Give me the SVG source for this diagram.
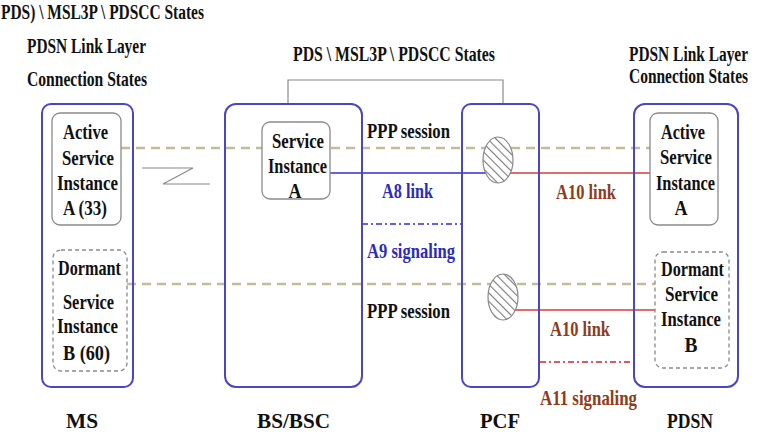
<svg xmlns="http://www.w3.org/2000/svg" width="759" height="441" viewBox="0 0 759 441">
<defs>
<style>
text{font-family:"Liberation Serif","Times New Roman",serif;font-weight:bold;font-size:22px;fill:#111}
.c{text-anchor:middle}
.outer{fill:none;stroke:#4a46c4;stroke-width:2}
.inner{fill:#fff;stroke:#8a8a8a;stroke-width:1.3}
.innerd{fill:#fff;stroke:#8a8a8a;stroke-width:1.3;stroke-dasharray:4 3}
.ppp{stroke:#c4bc98;stroke-width:2.5;stroke-dasharray:9 6;fill:none}
.blue{stroke:#2e2ed8;stroke-width:1.6;fill:none}
.red{stroke:#d83a3a;stroke-width:1.6;fill:none}
.bdd{stroke:#2e2ed8;stroke-width:1.6;stroke-dasharray:6 3 2 3;fill:none}
.rdd{stroke:#c82828;stroke-width:1.6;stroke-dasharray:6 3 2 3;fill:none}
.gray{stroke:#8a8a8a;stroke-width:1.2;fill:none}
.lb{fill:#2c2cb8}
.lr{fill:#8e3c1c}
.hatch{fill:url(#hp);stroke:#888;stroke-width:1.2}
.sm{font-size:21px}
.top{font-size:20px}
</style>
<pattern id="hp" patternUnits="userSpaceOnUse" width="6" height="6" patternTransform="rotate(-45)">
<rect width="6" height="6" fill="#fff"/>
<line x1="0" y1="0" x2="0" y2="6" stroke="#7a7a7a" stroke-width="2.2"/>
</pattern>
</defs>
<rect width="759" height="441" fill="#fff"/>

<g id="titles">
<text class="top" x="1" y="19" textLength="203" lengthAdjust="spacingAndGlyphs">PDS) \ MSL3P \ PDSCC States</text>
<text x="27" y="53" textLength="119" lengthAdjust="spacingAndGlyphs">PDSN Link Layer</text>
<text x="27" y="86" textLength="120" lengthAdjust="spacingAndGlyphs">Connection States</text>
<text x="293" y="61" textLength="202" lengthAdjust="spacingAndGlyphs">PDS \ MSL3P \ PDSCC States</text>
<text class="sm" transform="scale(0.7,1)" x="898.6" y="61" textLength="170" lengthAdjust="spacingAndGlyphs">PDSN Link Layer</text>
<text class="sm" transform="scale(0.7,1)" x="898.6" y="83" textLength="170" lengthAdjust="spacingAndGlyphs">Connection States</text>
</g>

<g id="connectors">
<polyline class="gray" points="288,104 288,80 503,80 503,104"/>
<polyline class="gray" points="142,168 193,168 163,184 210,184"/>
<line class="ppp" x1="121" y1="148" x2="650" y2="148"/>
<line class="ppp" x1="127" y1="284" x2="655" y2="284"/>
<line class="blue" x1="330" y1="173" x2="495" y2="173"/>
<line class="red" x1="505" y1="173" x2="650" y2="173"/>
<line class="red" x1="510" y1="310" x2="655" y2="310"/>
<line class="bdd" x1="362" y1="224" x2="461" y2="224"/>
<line class="rdd" x1="540" y1="362" x2="633" y2="362"/>
</g>

<g id="MS">
<rect class="outer" x="42" y="104" width="91" height="283" rx="9"/>
<g id="ms-active">
<rect class="inner" x="52" y="113" width="69" height="112" rx="8" fill-opacity="0"/>
<text x="63" y="139" textLength="45" lengthAdjust="spacingAndGlyphs">Active</text>
<text x="62" y="165" textLength="52" lengthAdjust="spacingAndGlyphs">Service</text>
<text x="57" y="190" textLength="61" lengthAdjust="spacingAndGlyphs">Instance</text>
<text x="63" y="215" textLength="44" lengthAdjust="spacingAndGlyphs">A (33)</text>
</g>
<g id="ms-dormant">
<rect class="innerd" x="53" y="250" width="74" height="121" rx="8" fill-opacity="0"/>
<text x="58" y="275" textLength="63" lengthAdjust="spacingAndGlyphs">Dormant</text>
<text x="63" y="309" textLength="51" lengthAdjust="spacingAndGlyphs">Service</text>
<text x="57" y="333" textLength="61" lengthAdjust="spacingAndGlyphs">Instance</text>
<text x="63" y="360" textLength="47" lengthAdjust="spacingAndGlyphs">B  (60)</text>
</g>
<text x="66" y="428" textLength="32" lengthAdjust="spacingAndGlyphs">MS</text>
</g>

<g id="BSC">
<rect class="outer" x="225" y="104" width="137" height="283" rx="11"/>
<g id="bsc-si">
<rect class="inner" x="262" y="122" width="68" height="77" rx="8"/>
<text x="272" y="148" textLength="52" lengthAdjust="spacingAndGlyphs">Service</text>
<text x="268" y="173" textLength="59" lengthAdjust="spacingAndGlyphs">Instance</text>
<text class="c" x="295" y="198" textLength="13" lengthAdjust="spacingAndGlyphs">A</text>
</g>
<text x="257" y="428" textLength="73" lengthAdjust="spacingAndGlyphs">BS/BSC</text>
</g>

<g id="PCF">
<rect class="outer" x="462" y="104" width="77" height="283" rx="9"/>
<ellipse class="hatch" cx="498" cy="160" rx="15" ry="23"/>
<ellipse class="hatch" cx="503" cy="297" rx="15" ry="23"/>
<text x="480" y="428" textLength="40" lengthAdjust="spacingAndGlyphs">PCF</text>
</g>

<g id="PDSN">
<rect class="outer" x="634" y="104" width="104" height="283" rx="11"/>
<g id="pdsn-active">
<rect class="inner" x="650" y="113" width="68" height="112" rx="8"/>
<text x="661" y="139" textLength="44" lengthAdjust="spacingAndGlyphs">Active</text>
<text x="660" y="164" textLength="52" lengthAdjust="spacingAndGlyphs">Service</text>
<text x="656" y="190" textLength="59" lengthAdjust="spacingAndGlyphs">Instance</text>
<text class="c" x="681" y="215" textLength="13" lengthAdjust="spacingAndGlyphs">A</text>
</g>
<g id="pdsn-dormant">
<rect class="innerd" x="655" y="252" width="74" height="116" rx="8"/>
<text x="661" y="276" textLength="63" lengthAdjust="spacingAndGlyphs">Dormant</text>
<text x="665" y="301" textLength="53" lengthAdjust="spacingAndGlyphs">Service</text>
<text x="661" y="326" textLength="60" lengthAdjust="spacingAndGlyphs">Instance</text>
<text class="c" x="691" y="352" textLength="13" lengthAdjust="spacingAndGlyphs">B</text>
</g>
<text x="667" y="428" textLength="46" lengthAdjust="spacingAndGlyphs">PDSN</text>
</g>

<g id="labels">
<text x="367" y="138" textLength="83" lengthAdjust="spacingAndGlyphs">PPP session</text>
<text class="lb" x="382" y="198" textLength="51" lengthAdjust="spacingAndGlyphs">A8 link</text>
<text class="lb" x="367" y="258" textLength="88" lengthAdjust="spacingAndGlyphs">A9 signaling</text>
<text x="367" y="318" textLength="83" lengthAdjust="spacingAndGlyphs">PPP session</text>
<text class="lr" x="556" y="199" textLength="60" lengthAdjust="spacingAndGlyphs">A10 link</text>
<text class="lr" x="550" y="336" textLength="60" lengthAdjust="spacingAndGlyphs">A10 link</text>
<text class="lr" x="540" y="405" textLength="97" lengthAdjust="spacingAndGlyphs">A11 signaling</text>
</g>
</svg>
